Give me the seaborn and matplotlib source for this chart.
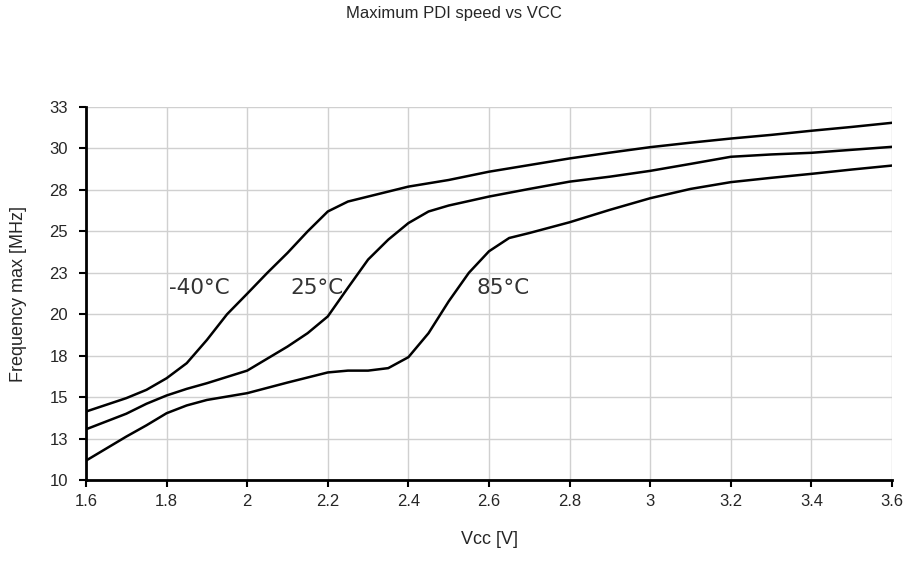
"""
Maximum PDI speed vs VCC
"""
import math
import matplotlib
matplotlib.use("Agg")
import matplotlib.pyplot as plt
from matplotlib.ticker import FuncFormatter, MultipleLocator
import seaborn as sns
import pandas as pd

sns.set_style("whitegrid")
plt.rcParams['font.family'] = ['Liberation Sans', 'DejaVu Sans']

# データ
vcc_m40 = [1.6, 1.7, 1.75, 1.8, 1.85, 1.9, 1.95, 2.0, 2.05, 2.1, 2.15, 2.2, 2.25, 2.3,
           2.4, 2.5, 2.6, 2.7, 2.8, 2.9, 3.0, 3.1, 3.2, 3.3, 3.4, 3.5, 3.6]
freq_m40 = [14.13, 14.94, 15.44, 16.14, 17.05, 18.45, 20.0, 21.24, 22.5, 23.7, 25.0, 26.2, 26.8, 27.1,
            27.7, 28.1, 28.6, 29.0, 29.4, 29.75, 30.08, 30.35, 30.6, 30.82, 31.07, 31.3, 31.55]

vcc_25 = [1.6, 1.7, 1.75, 1.8, 1.85, 1.9, 2.0, 2.1, 2.15, 2.2, 2.25, 2.3, 2.35, 2.4, 2.45, 2.5,
          2.6, 2.7, 2.8, 2.9, 3.0, 3.1, 3.2, 3.3, 3.4, 3.5, 3.6]
freq_25 = [13.06, 14.0, 14.6, 15.1, 15.5, 15.84, 16.6, 18.05, 18.86, 19.87, 21.6, 23.3, 24.5, 25.5, 26.2, 26.56,
           27.1, 27.56, 28.0, 28.3, 28.65, 29.07, 29.5, 29.64, 29.74, 29.92, 30.1]

vcc_85 = [1.6, 1.7, 1.75, 1.8, 1.85, 1.9, 2.0, 2.1, 2.2, 2.25, 2.3, 2.35, 2.4, 2.45, 2.5, 2.55, 2.6, 2.65, 2.7,
          2.8, 2.9, 3.0, 3.1, 3.2, 3.3, 3.4, 3.5, 3.6]
freq_85 = [11.17, 12.62, 13.3, 14.03, 14.5, 14.83, 15.24, 15.88, 16.49, 16.6, 16.6, 16.75, 17.41, 18.86, 20.78,
           22.5, 23.8, 24.6, 24.9, 25.55, 26.3, 27.0, 27.56, 27.97, 28.23, 28.47, 28.73, 28.97]

labels = ['-40°C', '25°C', '85°C']
label_pos = [(1.806, 21.6), (2.106, 21.6), (2.568, 21.6)]

df = pd.concat([
    pd.DataFrame({'vcc': vcc_m40, 'freq': freq_m40, 'temp': labels[0]}),
    pd.DataFrame({'vcc': vcc_25, 'freq': freq_25, 'temp': labels[1]}),
    pd.DataFrame({'vcc': vcc_85, 'freq': freq_85, 'temp': labels[2]}),
], ignore_index=True)

fig = plt.figure(figsize=(9.08, 5.67), dpi=100)
ax = fig.add_axes([0.0947, 0.1534, 0.8877, 0.6578])

sns.lineplot(data=df, x='vcc', y='freq', hue='temp', units='temp', estimator=None,
             sort=False, palette=['black'] * 3, linewidth=1.8, legend=False, ax=ax)
for line in ax.get_lines():
    line.set_solid_joinstyle('round')
    line.set_solid_capstyle('round')

for text, (tx, ty) in zip(labels, label_pos):
    ax.text(tx, ty, text, fontsize=15.5, color='#333333', va='center', ha='left',
            family='DejaVu Sans')

ax.set_xlim(1.6, 3.6)
ax.set_ylim(10, 32.5)
ax.xaxis.set_major_locator(MultipleLocator(0.2))
ax.yaxis.set_major_locator(MultipleLocator(2.5))
ax.xaxis.set_major_formatter(FuncFormatter(lambda v, p: f'{v:g}'))
ax.yaxis.set_major_formatter(FuncFormatter(lambda v, p: f'{math.floor(v + 0.5):d}'))

ax.grid(True, color='#d0d0d0', linewidth=1.0)
for side in ['top', 'right']:
    ax.spines[side].set_visible(False)
for side in ['left', 'bottom']:
    ax.spines[side].set_color('black')
    ax.spines[side].set_linewidth(2.0)
ax.tick_params(axis='both', which='major', direction='out', length=5, width=1.5,
               color='black', labelsize=12, pad=5, bottom=True, left=True)
ax.tick_params(axis='y', pad=8)

ax.set_xlabel('Vcc [V]', fontsize=13)
ax.xaxis.set_label_coords(0.5, -0.137)
ax.set_ylabel('Frequency max [MHz]', fontsize=13)
ax.yaxis.set_label_coords(-0.073, 0.5)
fig.suptitle('Maximum PDI speed vs VCC', fontsize=12, y=0.99)

plt.savefig('out.png', dpi=100)
plt.close()
